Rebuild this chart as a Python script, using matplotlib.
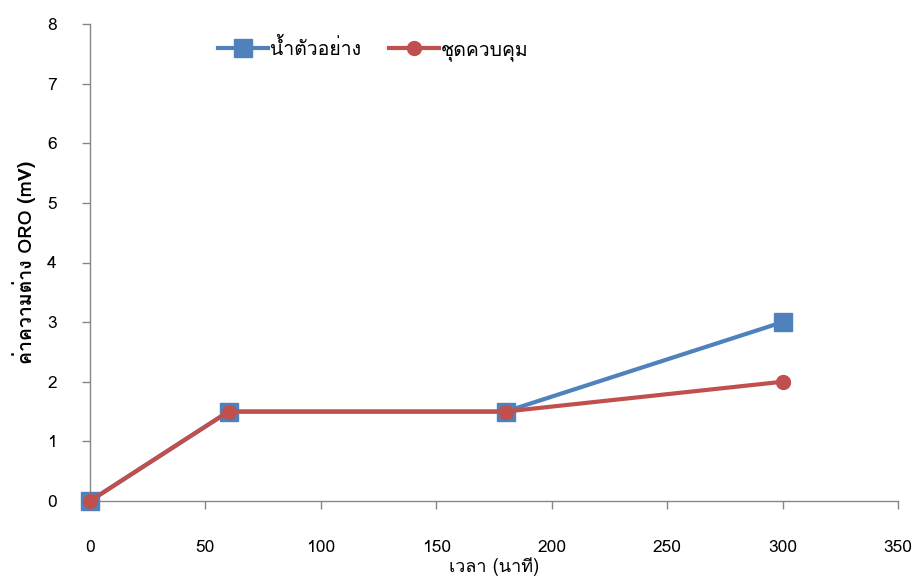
import matplotlib
matplotlib.use("Agg")
import matplotlib.pyplot as plt
from matplotlib import font_manager
from matplotlib.ft2font import FT2Font

# Data
time_min = [0, 60, 180, 300]
sample_vals = [0, 1.5, 1.5, 3]
control_vals = [0, 1.5, 1.5, 2]
series_names = ["น้ำตัวอย่าง", "ชุดควบคุม"]
x_label = "เวลา (นาที)"
y_label = "ค่าความต่าง ORO (mV)"

# find a font with Thai glyphs
thai_font = None
for f in font_manager.fontManager.ttflist:
    try:
        cm = FT2Font(f.fname).get_charmap()
        if 0x0E19 in cm and 0x0E32 in cm:
            thai_font = f.name
            break
    except Exception:
        continue
families = ([thai_font] if thai_font else []) + ["Liberation Sans", "DejaVu Sans"]
plt.rcParams['font.family'] = families

fig = plt.figure(figsize=(9.15, 5.77), dpi=100)
ax = fig.add_axes([90/915, 76/577, 808/915, 477/577])

blue = "#4F81BD"
red = "#C0504D"
ax.plot(time_min, sample_vals, color=blue, lw=3.0, marker="s", ms=12.5, label=series_names[0],
        zorder=3, clip_on=False)
ax.plot(time_min, control_vals, color=red, lw=3.0, marker="o", ms=10, label=series_names[1],
        zorder=4, clip_on=False)

ax.set_xlim(0, 350)
ax.set_ylim(0, 8)
ax.set_xticks(range(0, 351, 50))
ax.set_yticks(range(0, 9))
for s in ["top", "right"]:
    ax.spines[s].set_visible(False)
for s in ["left", "bottom"]:
    ax.spines[s].set_color("#868686")
    ax.spines[s].set_linewidth(1)
ax.tick_params(axis="both", colors="#868686", labelcolor="black", labelsize=12.5, length=6, width=1)
ax.tick_params(axis="x", pad=22)
ax.tick_params(axis="y", pad=18)

ax.set_xlabel(x_label, fontsize=13, labelpad=1)
ax.set_ylabel(y_label, fontsize=14, fontweight="bold", labelpad=8)

leg = ax.legend(loc="upper left", bbox_to_anchor=(0.137, 1.008), ncol=2, frameon=False,
                fontsize=14, handlelength=2.55, columnspacing=1.45, handletextpad=0.1)

fig.savefig("out.png", dpi=100)
